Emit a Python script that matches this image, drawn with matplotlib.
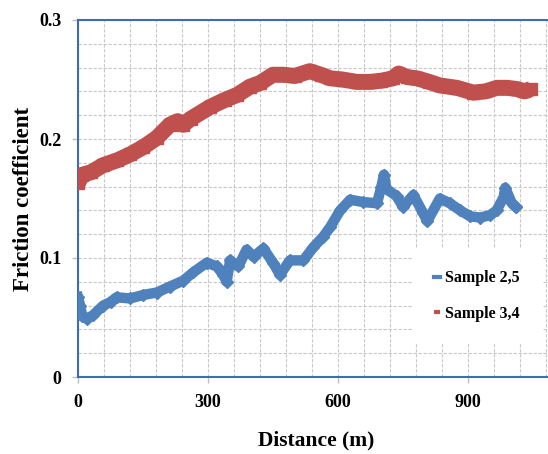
import matplotlib.pyplot as plt
from matplotlib.ticker import MultipleLocator

# Sample 3,4 (red band)
dist_34 = [0, 10, 30, 58, 90, 120, 150, 182, 212, 230, 243, 260, 305, 340, 367,
           397, 420, 450, 473, 500, 535, 560, 582, 610, 643, 674, 700, 727, 740,
           760, 782, 810, 835, 874, 912, 940, 967, 990, 1013, 1030, 1045]
mu_34 = [0.163, 0.170, 0.172, 0.178, 0.182, 0.187, 0.193, 0.201, 0.212, 0.215,
         0.212, 0.217, 0.227, 0.233, 0.237, 0.244, 0.247, 0.254, 0.254, 0.253,
         0.257, 0.254, 0.251, 0.250, 0.248, 0.248, 0.249, 0.251, 0.255, 0.252,
         0.251, 0.248, 0.245, 0.243, 0.239, 0.240, 0.243, 0.243, 0.242, 0.240,
         0.242]

# Sample 2,5 (blue band)
dist_25 = [0, 5, 10, 20, 35, 58, 75, 89, 120, 151, 182, 212, 243, 266, 297, 320,
           335, 343, 351, 370, 389, 405, 428, 450, 466, 489, 520, 543, 566, 582,
           605, 628, 658, 690, 700, 706, 712, 735, 750, 774, 796, 806, 835, 858,
           882, 905, 928, 951, 966, 982, 986, 1001, 1010]
mu_25 = [0.067, 0.060, 0.051, 0.049, 0.052, 0.060, 0.063, 0.067, 0.066, 0.069,
         0.071, 0.076, 0.081, 0.088, 0.096, 0.093, 0.086, 0.080, 0.098, 0.093,
         0.107, 0.101, 0.108, 0.096, 0.086, 0.098, 0.098, 0.109, 0.118, 0.126,
         0.140, 0.149, 0.147, 0.146, 0.160, 0.170, 0.158, 0.152, 0.143, 0.153,
         0.138, 0.131, 0.150, 0.146, 0.140, 0.135, 0.134, 0.136, 0.140, 0.151,
         0.159, 0.146, 0.143]

x_ticks = [0, 300, 600, 900]
y_ticks = [0, 0.1, 0.2, 0.3]
y_tick_labels = ['0', '0.1', '0.2', '0.3']

plt.rcParams['font.family'] = ['Liberation Serif', 'DejaVu Serif']
plt.rcParams['font.weight'] = 'bold'

fig = plt.figure(figsize=(5.48, 4.54), dpi=100)
ax = fig.add_axes([78 / 548, 1 - 377 / 454, 476.7 / 548, 357 / 454])

blue = '#4F81BD'
red = '#C0504D'
ax.plot(dist_25, mu_25, color=blue, lw=7.5, marker='D', ms=6,
        mec=blue, label='Sample 2,5', zorder=3)
ax.plot(dist_34, mu_34, color=red, lw=11.5, marker='s', ms=9, mec=red,
        solid_capstyle='butt', label='Sample 3,4', zorder=3)

ax.set_xlim(0, 1100)
ax.set_ylim(0, 0.3)
ax.set_xticks(x_ticks)
ax.set_yticks(y_ticks)
ax.set_yticklabels(y_tick_labels)
ax.xaxis.set_minor_locator(MultipleLocator(60))
ax.yaxis.set_minor_locator(MultipleLocator(0.02))
ax.grid(True, which='both', color='#C8C8C8', linestyle=(0, (3, 1.5)), lw=0.8)
ax.set_axisbelow(True)

ax.tick_params(which='major', length=4, width=1, color='#C0C0C0',
               labelsize=13, pad=8)
ax.tick_params(which='minor', length=0)
for lab in ax.get_xticklabels() + ax.get_yticklabels():
    lab.set_fontweight('bold')

for sp in ax.spines.values():
    sp.set_color('#3F6DAF')
    sp.set_linewidth(1.5)

ax.set_xlabel('Distance (m)', fontsize=15.5, fontweight='bold')
ax.set_ylabel('Friction coefficient', fontsize=16.5, fontweight='bold')
ax.xaxis.set_label_coords(0.5, -0.15)
ax.yaxis.set_label_coords(-0.093, 0.5)

leg = ax.legend(loc='upper left', bbox_to_anchor=(0.70, 0.361),
                borderaxespad=0, frameon=True, fancybox=False,
                edgecolor='none', facecolor='white', framealpha=1,
                handlelength=0.4, handletextpad=0.3, labelspacing=1.2,
                borderpad=1.4, prop={'size': 11.5, 'weight': 'bold'})
for h in leg.legend_handles:
    h.set_linewidth(3)
    h.set_marker('')
leg.set_zorder(5)

fig.savefig('out.png', dpi=100)
